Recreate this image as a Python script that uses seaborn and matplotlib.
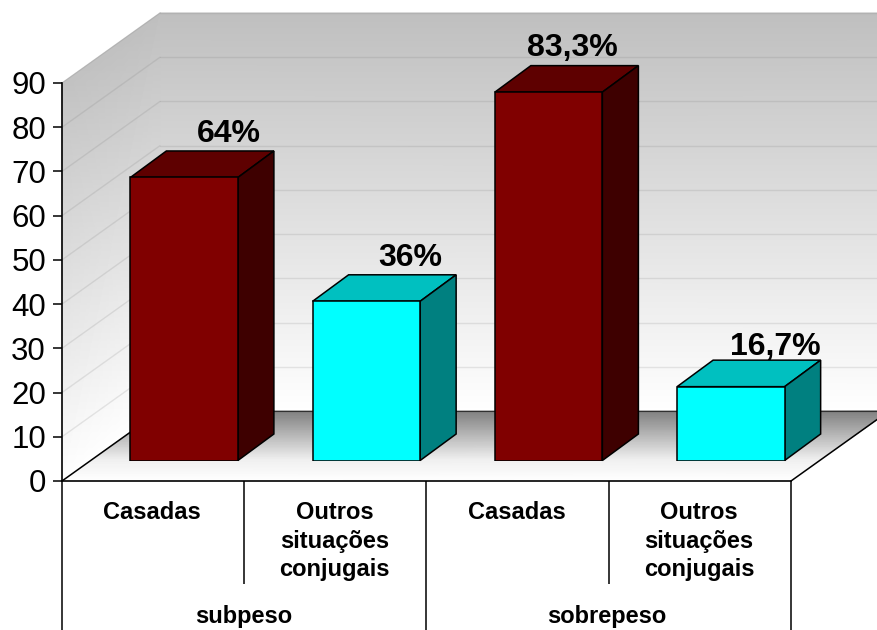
import numpy as np
import pandas as pd
import matplotlib
matplotlib.use("Agg")
import matplotlib.pyplot as plt
from matplotlib.colors import LinearSegmentedColormap
from matplotlib.patches import Polygon
import seaborn as sns

# ---- data ----
groups = ["subpeso", "sobrepeso"]
series_kind = ["Casadas", "Outros", "Casadas", "Outros"]
bar_keys = ["a", "b", "c", "d"]
tick_labels = ["Casadas", "Outros\nsituações\nconjugais",
               "Casadas", "Outros\nsituações\nconjugais"]
values = [64, 36, 83.3, 16.7]
value_labels = ["64%", "36%", "83,3%", "16,7%"]
y_ticks = [0, 10, 20, 30, 40, 50, 60, 70, 80, 90]

sns.set_theme(style="white")
plt.rcParams["font.family"] = ["Liberation Sans", "DejaVu Sans"]

W, H = 878, 630
fig = plt.figure(figsize=(W / 100, H / 100), dpi=100)
fig.patch.set_facecolor("white")


def px_axes(left, right, top, bottom, **kw):
    return fig.add_axes([left / W, 1 - bottom / H, (right - left) / W, (bottom - top) / H], **kw)


# geometry of the pseudo-3D box (pixels)
FX0, FX1, FY0, FY90 = 62, 791, 481, 83
DX, DY = 98, 70
unit = (FY0 - FY90) / 90

# ---- background walls and floor ----
bg = px_axes(0, W + 20, 0, H)
bg.set_xlim(0, W + 20)
bg.set_ylim(H, 0)
bg.axis("off")
wall_cmap = LinearSegmentedColormap.from_list("wall", ["#BFBFBF", "#FFFFFF"])
floor_cmap = LinearSegmentedColormap.from_list(
    "floor", [(0, "#808080"), (0.7, "#F0F0F0"), (1, "#FFFFFF")], N=256)

# back wall
X = np.array([[FX0 + DX, W + 20], [FX0 + DX, W + 20]], float)
Y = np.array([[FY90 - DY, FY90 - DY], [FY0 - DY, FY0 - DY]], float)
bg.pcolormesh(X, Y, np.array([[0, 0], [1, 1]]), cmap=wall_cmap, shading="gouraud", vmin=0, vmax=1, zorder=1)
# left wall
X = np.array([[FX0, FX0 + DX], [FX0, FX0 + DX]], float)
Y = np.array([[FY90, FY90 - DY], [FY0, FY0 - DY]], float)
bg.pcolormesh(X, Y, np.array([[0.05, 0], [1, 1]]), cmap=wall_cmap, shading="gouraud", vmin=0, vmax=1, zorder=1)
# floor
ys = np.linspace(FY0 - DY, FY0, 30)
ts = (ys - (FY0 - DY)) / DY
xl = FX0 + DX * (1 - ts)
xr = FX1 + DX * (1 - ts)
bg.pcolormesh(np.c_[xl, xr], np.c_[ys, ys], np.c_[ts, ts], cmap=floor_cmap, shading="gouraud",
              vmin=0, vmax=1, zorder=1)

# gridlines on walls
for v in y_ticks[1:]:
    y = FY0 - v * unit
    bg.plot([FX0, FX0 + DX], [y, y - DY], color="#707070", alpha=0.16, lw=1, zorder=2)
    bg.plot([FX0 + DX, W], [y - DY, y - DY], color="#707070", alpha=0.16, lw=1, zorder=2)
# floor edges
bg.plot([FX0 + DX, W], [FY0 - DY, FY0 - DY], color="#303030", lw=0.8, zorder=3)
bg.plot([FX0, FX0 + DX], [FY0, FY0 - DY], color="black", lw=1.1, zorder=3)
bg.plot([FX1, FX1 + DX], [FY0, FY0 - DY], color="black", lw=1.1, zorder=3)

# ---- bars ----
OFF_X, OFF_Y = 31, 20.5
bar_ax = px_axes(FX0 + OFF_X, FX1 + OFF_X, FY90 - OFF_Y, FY0 - OFF_Y, facecolor="none")
df = pd.DataFrame({"key": bar_keys, "value": values, "kind": series_kind})
sns.barplot(data=df, x="key", y="value", hue="kind", dodge=False, width=0.59,
            palette={"Casadas": "#800000", "Outros": "#00FFFF"}, legend=False,
            edgecolor="black", linewidth=1.1, saturation=1, ax=bar_ax, zorder=3)
bar_ax.set_xlim(-0.5, 3.5)
bar_ax.set_ylim(0, 90)
bar_ax.axis("off")

seg = (FX1 - FX0) / 4
bdx, bdy = 36 / seg, 26.5 / unit
shade = {"Casadas": ("#5E0000", "#3E0000"), "Outros": ("#00C0C0", "#008080")}
label_off = [(45, 43), (44, 43), (24, 44), (44, 40)]
bars = sorted([p for p in bar_ax.patches if p.get_height() > 0], key=lambda p: p.get_x())
for p, kind, lab, (ox, oy) in zip(bars, series_kind, value_labels, label_off):
    x0, x1, h = p.get_x(), p.get_x() + p.get_width(), p.get_height()
    top, side = shade[kind]
    bar_ax.add_patch(Polygon([(x0, h), (x1, h), (x1 + bdx, h + bdy), (x0 + bdx, h + bdy)], closed=True,
                             facecolor=top, edgecolor="black", lw=1.1, zorder=2, clip_on=False))
    bar_ax.add_patch(Polygon([(x1, 0), (x1 + bdx, bdy), (x1 + bdx, h + bdy), (x1, h)], closed=True,
                             facecolor=side, edgecolor="black", lw=1.1, zorder=2, clip_on=False))
    bar_ax.annotate(lab, xy=((x0 + x1) / 2, h), xytext=(ox * 0.72, oy * 0.72), textcoords="offset points",
                    ha="center", va="center", fontsize=23, fontweight="bold", color="black",
                    annotation_clip=False, zorder=6)

# ---- axis, tick labels, category table ----
ax = px_axes(FX0, FX1, FY90, FY0, facecolor="none")
ax.set_xlim(-0.5, 3.5)
ax.set_ylim(0, 90)
ax.set_yticks(y_ticks)
ax.tick_params(axis="y", length=6.5, width=1.1, color="black", labelsize=22.5, pad=5, labelcolor="black", left=True)
ax.set_xticks(np.arange(4) - 0.005)
ax.set_xticklabels(tick_labels, fontsize=17, fontweight="bold", color="black", linespacing=1.3, va="top")
ax.tick_params(axis="x", length=0, pad=14.7)
for s in ["top", "right"]:
    ax.spines[s].set_visible(False)
for s in ["left", "bottom"]:
    ax.spines[s].set_color("black")
    ax.spines[s].set_linewidth(1.2)

trans = ax.get_xaxis_transform()
to_axes = lambda py: (FY0 - py) / (FY0 - FY90)
for xv, bottom_px in [(-0.5, 632), (0.5, 584), (1.5, 632), (2.5, 584), (3.5, 632)]:
    ax.plot([xv, xv], [0, to_axes(bottom_px)], transform=trans, color="black", lw=1.1, clip_on=False,
            solid_capstyle="butt")
for xc, g in zip([0.495, 2.49], groups):
    ax.text(xc, to_axes(617), g, transform=trans, ha="center", va="center", fontsize=17,
            fontweight="bold", color="black")

fig.savefig("out.png", dpi=100, facecolor="white")
